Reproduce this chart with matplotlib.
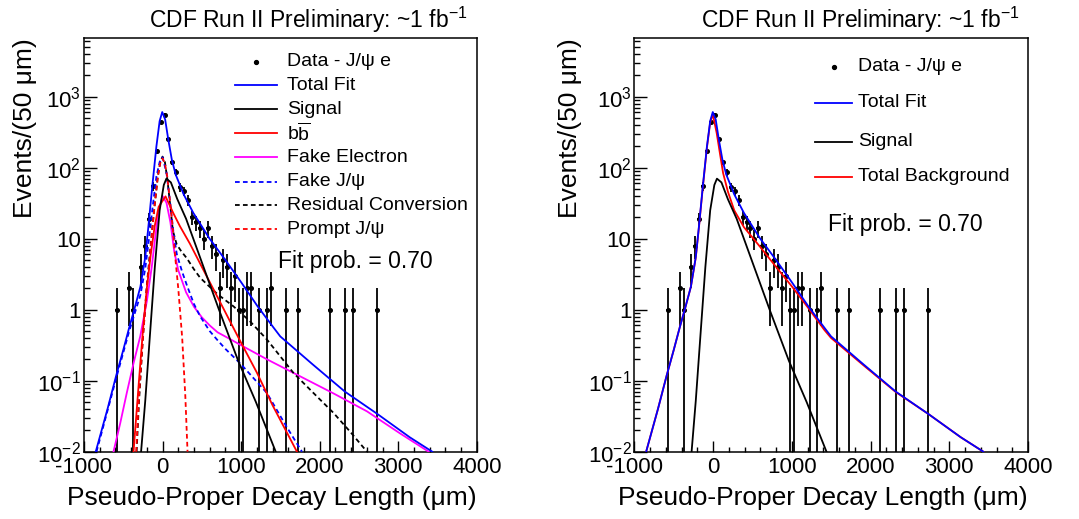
"""CDF Run II: pseudo-proper decay length fit of J/psi e sample (two panels)."""

import numpy as np
import matplotlib

matplotlib.use("Agg")
import matplotlib.pyplot as plt  # noqa: E402
from matplotlib.ticker import FixedLocator, FuncFormatter, LogLocator, MultipleLocator, NullFormatter  # noqa: E402

plt.rcParams["font.family"] = ["Liberation Sans", "DejaVu Sans"]
plt.rcParams["mathtext.fontset"] = "custom"
plt.rcParams["mathtext.rm"] = "Liberation Sans"
plt.rcParams["mathtext.it"] = "Liberation Sans:italic"
plt.rcParams["mathtext.bf"] = "Liberation Sans:bold"
plt.rcParams["axes.unicode_minus"] = False

# ---- data ----
bin_x = [-575, -425, -375, -275, -225, -175, -125, -75, -25, 25, 75, 125, 175, 225, 275,
         325, 375, 425, 475, 525, 575, 625, 675, 725, 775, 825, 875, 925, 975, 1025,
         1075, 1125, 1225, 1325, 1375, 1575, 1725, 2125, 2325, 2425, 2725]
counts = [1, 2, 1, 4, 8, 19, 55, 170, 437, 560, 256, 119, 86, 53, 47,
          35, 20, 17, 14, 10, 14, 8, 6, 2, 5, 4, 2, 3, 1, 1,
          2, 2, 1, 1, 2, 1, 1, 1, 1, 1, 1]

# total fit (blue solid)
tot_x = [-850, -700, -588, -500, -424, -350, -282, -220, -180, -131, -78, -37, -4, 33, 73,
         118, 167, 269, 392, 596, 800, 1004, 1208, 1412, 1498, 1909, 2321, 2733, 3144, 3432]
tot_y = [0.01, 0.04, 0.12, 0.27, 0.56, 1.1, 2.1, 5.5, 14.8, 54, 200, 452, 607, 478, 249,
         130, 80, 42, 23, 10.1, 5.0, 2.4, 1.12, 0.56, 0.42, 0.17, 0.07, 0.034, 0.016, 0.01]

# signal (black solid)
sig_x = [-273, -220, -159, -98, -37, 16, 49, 106, 188, 300, 718, 963, 1188, 1440]
sig_y = [0.01, 0.052, 0.46, 4.0, 25, 57, 70, 62, 36, 19, 1.0, 0.19, 0.05, 0.01]

# total background (red solid, right panel)
bkg_x = [-850, -700, -588, -500, -424, -350, -282, -220, -180, -131, -78, -37, -4, 45, 86,
         127, 188, 269, 392, 596, 800, 1004, 1208, 1412, 1498, 1909, 2321, 2733, 3144, 3432]
bkg_y = [0.01, 0.04, 0.12, 0.27, 0.56, 1.1, 2.1, 5.4, 14.3, 52, 192, 430, 565, 310, 161,
         84, 46, 25, 14.5, 7.7, 4.0, 2.1, 1.06, 0.52, 0.40, 0.165, 0.069, 0.034, 0.016, 0.01]

# b bbar (red solid, left panel)
bb_x = [-369, -300, -250, -200, -150, -100, -50, 38, 136, 221, 348, 500, 700, 989, 1200, 1400, 1710]
bb_y = [0.01, 0.1, 0.5, 2.0, 6, 15, 28, 39.4, 23, 15, 8.5, 4.0, 1.5, 0.36, 0.13, 0.045, 0.01]

# fake electron (magenta solid)
fe_x = [-624, -539, -454, -369, -284, -199, -136, -100, -50, 0, 50, 100, 150, 200, 300,
        400, 500, 600, 700, 850, 989, 1328, 1752, 2177, 2601, 3025, 3386]
fe_y = [0.01, 0.025, 0.068, 0.176, 0.42, 1.33, 4.1, 9, 25, 40, 32, 17, 6.5, 3.6, 1.75,
        1.1, 0.78, 0.6, 0.48, 0.39, 0.32, 0.2, 0.115, 0.066, 0.037, 0.018, 0.01]

# fake J/psi (blue dashed)
fj_x = [-840, -588, -424, -282, -220, -180, -131, -78, -37, 0, 50, 100, 140, 182,
        250, 310, 400, 480, 600, 692, 800, 989, 1328, 1583, 1774]
fj_y = [0.01, 0.11, 0.5, 1.6, 3.8, 8.5, 25, 75, 120, 140, 85, 30, 12, 6,
        3.4, 2.2, 1.2, 0.8, 0.5, 0.38, 0.28, 0.175, 0.067, 0.022, 0.01]

# residual conversion (black dashed)
rc_x = [-330, -300, -250, -200, -165, -130, -100, -60, -30, 0, 30, 60, 100, 131, 180,
        240, 309, 400, 480, 700, 904, 1116, 1328, 1667, 1964, 2177, 2389, 2601]
rc_y = [0.01, 0.05, 0.4, 2.2, 5.5, 14, 30, 75, 118, 143, 120, 70, 28, 13, 8.3,
        6.6, 5.3, 3.7, 2.8, 1.65, 1.11, 0.68, 0.38, 0.128, 0.06, 0.035, 0.019, 0.01]

# prompt J/psi (red dashed)
pr_x = [-335, -300, -250, -200, -165, -130, -100, -60, -30, 0, 30, 60, 100, 130, 165, 200, 250, 290, 318]
pr_y = [0.01, 0.06, 0.4, 2.0, 5, 14, 30, 75, 115, 135, 115, 75, 30, 14, 5, 2.0, 0.4, 0.06, 0.01]

title = r"CDF Run II Preliminary: ~1 fb$^{-1}$"
fit_text = "Fit prob. = 0.70"
x_title = "Pseudo-Proper Decay Length (\u03bcm)"
y_title = "Events/(50 \u03bcm)"

BLUE = "#0000ff"
RED = "#ff0000"
MAG = "#ff00ff"
DASH = (0, (2.6, 1.8))
LW = 1.3


def _ylab(v, pos):
    if np.isclose(v, 10):
        return "10"
    if np.isclose(v, 1):
        return "1"
    e = int(round(np.log10(v)))
    return r"$10^{%d}$" % e


def style_axes(ax):
    ax.set_yscale("log")
    ax.set_xlim(-1000, 4000)
    ax.set_ylim(0.01, 6700)
    ax.xaxis.set_major_locator(MultipleLocator(1000))
    ax.xaxis.set_minor_locator(MultipleLocator(200))
    ax.yaxis.set_major_locator(FixedLocator([0.01, 0.1, 1, 10, 100, 1000]))
    ax.yaxis.set_minor_locator(LogLocator(base=10, subs=np.arange(2, 10)))
    ax.yaxis.set_major_formatter(FuncFormatter(_ylab))
    ax.yaxis.set_minor_formatter(NullFormatter())
    ax.tick_params(which="both", direction="in", top=False, right=False, labelsize=16, width=1.0)
    ax.tick_params(axis="y", which="major", length=9, pad=2)
    ax.tick_params(axis="y", which="minor", length=4.5)
    ax.tick_params(axis="x", which="major", length=8, pad=4)
    ax.tick_params(axis="x", which="minor", length=3.6)
    for s in ax.spines.values():
        s.set_linewidth(1.1)
    ax.set_xlabel(x_title, fontsize=19, loc="right")
    ax.xaxis.set_label_coords(1.0, -0.082)
    ax.set_ylabel(y_title, fontsize=19, loc="top")


def draw_data(ax):
    c = np.array(counts, dtype=float)
    err = np.sqrt(c)
    lo = np.minimum(err, c * 0.9999)
    ax.errorbar(bin_x, counts, yerr=[lo, err], xerr=25, fmt="o", ms=2.6, color="black",
                ecolor="black", elinewidth=1.3, capsize=0, zorder=2)


def legend_rows(ax, rows, x0, x1, xt, fs):
    for label, y, kind in rows:
        if kind is None:
            ax.plot([(x0 + x1) / 2], [y], "o", ms=2.8, color="black", transform=ax.transAxes, clip_on=False)
        else:
            col, ls = kind
            ax.plot([x0, x1], [y, y], color=col, ls=ls, lw=LW, transform=ax.transAxes, clip_on=False)
        ax.text(xt, y, label, transform=ax.transAxes, fontsize=fs, va="center", ha="left")


fig = plt.figure(figsize=(10.79, 5.19), dpi=100)
axL = fig.add_axes([0.0778, 0.1297, 0.3642, 0.7971])
axR = fig.add_axes([0.5879, 0.1297, 0.3649, 0.7971])

# left panel: all components
style_axes(axL)
axL.yaxis.set_label_coords(-0.12, 1.0)
draw_data(axL)
axL.plot(fe_x, fe_y, color=MAG, lw=LW, zorder=3)
axL.plot(rc_x, rc_y, color="black", ls=DASH, lw=LW, zorder=3)
axL.plot(fj_x, fj_y, color=BLUE, ls=DASH, lw=LW, zorder=3)
axL.plot(pr_x, pr_y, color=RED, ls=DASH, lw=LW, zorder=3)
axL.plot(bb_x, bb_y, color=RED, lw=LW, zorder=3)
axL.plot(sig_x, sig_y, color="black", lw=LW, zorder=3)
axL.plot(tot_x, tot_y, color=BLUE, lw=LW, zorder=4)
legend_rows(axL, [
    ("Data - J/\u03c8 e", 0.943, None),
    ("Total Fit", 0.886, (BLUE, "-")),
    ("Signal", 0.828, ("black", "-")),
    (r"b$\overline{\mathrm{b}}$", 0.770, (RED, "-")),
    ("Fake Electron", 0.712, (MAG, "-")),
    ("Fake J/\u03c8", 0.653, (BLUE, DASH)),
    ("Residual Conversion", 0.596, ("black", DASH)),
    ("Prompt J/\u03c8", 0.538, (RED, DASH)),
], 0.384, 0.491, 0.517, 14)
axL.text(0.494, 0.459, fit_text, transform=axL.transAxes, fontsize=16.5, va="center", ha="left")

# right panel: signal + total background
style_axes(axR)
axR.yaxis.set_label_coords(-0.133, 1.0)
draw_data(axR)
axR.plot(bkg_x, bkg_y, color=RED, lw=LW, zorder=3)
axR.plot(sig_x, sig_y, color="black", lw=LW, zorder=3)
axR.plot(tot_x, tot_y, color=BLUE, lw=LW, zorder=4)
legend_rows(axR, [
    ("Data - J/\u03c8 e", 0.930, None),
    ("Total Fit", 0.843, (BLUE, "-")),
    ("Signal", 0.749, ("black", "-")),
    ("Total Background", 0.665, (RED, "-")),
], 0.459, 0.553, 0.568, 14)
axR.text(0.492, 0.548, fit_text, transform=axR.transAxes, fontsize=16.5, va="center", ha="left")

fig.text(0.4337, 0.961, title, ha="right", va="center", fontsize=16.5)
fig.text(0.9453, 0.961, title, ha="right", va="center", fontsize=16.5)

fig.savefig("out.png", dpi=100)
plt.close(fig)
print("Saved: out.png")
